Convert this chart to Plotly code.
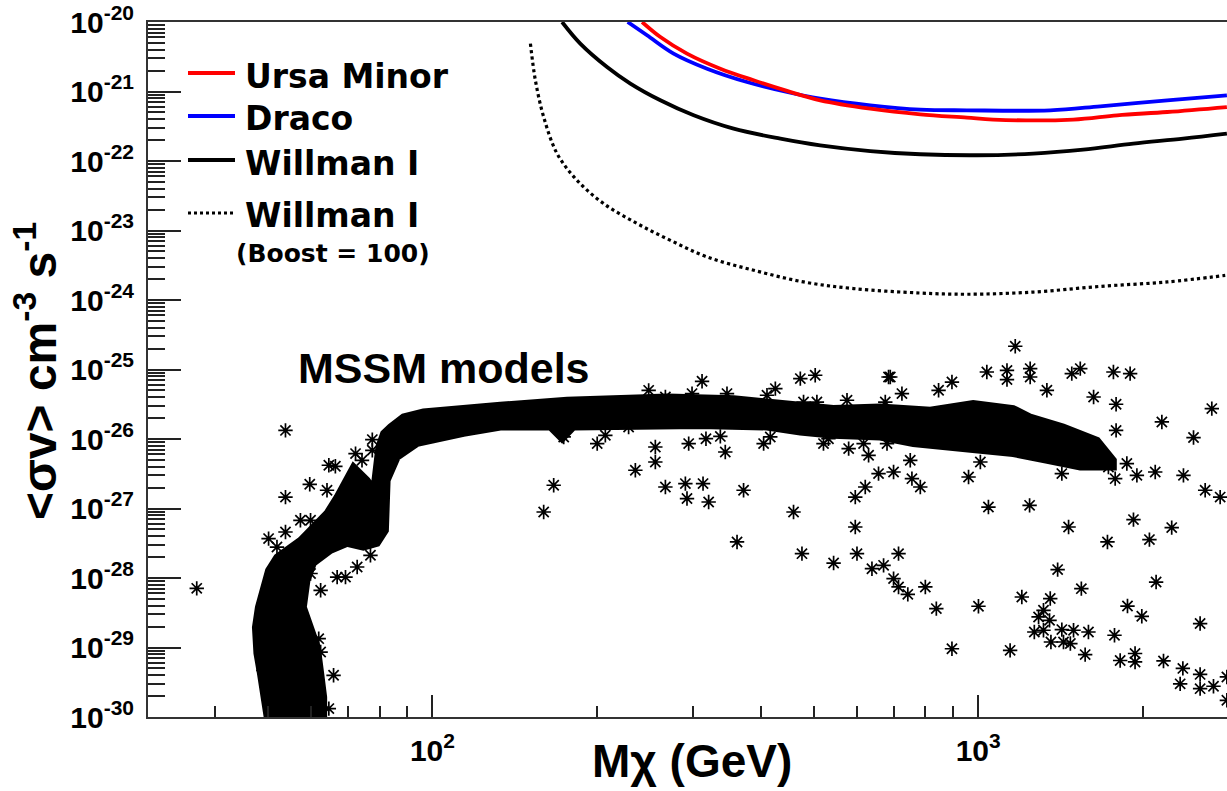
import plotly.graph_objects as go

# ---------------- data ----------------
ursa_m = [242.2, 261.6, 292.7, 336.9, 387.7, 446.3, 513.5, 634.2, 783.2, 953.5, 1065, 1493, 1797, 2220, 2855]
ursa_s = [1.0e-20, 6.08e-21, 3.51e-21, 2.13e-21, 1.45e-21, 1.02e-21, 7.47e-22, 5.67e-22, 4.70e-22,
          4.21e-22, 3.94e-22, 3.94e-22, 4.55e-22, 5.07e-22, 5.98e-22]

draco_m = [227.9, 247.3, 276.6, 318.5, 377.0, 446.3, 513.5, 634.2, 783.2, 953.5, 1355, 1673, 2220, 2855]
draco_s = [1.0e-20, 6.44e-21, 3.51e-21, 2.13e-21, 1.37e-21, 9.84e-22, 7.91e-22, 6.33e-22, 5.49e-22,
           5.36e-22, 5.36e-22, 6.12e-22, 7.47e-22, 8.81e-22]

willman_m = [172.8, 186.6, 208.9, 230.5, 261.6, 301.1, 356.3, 434, 513.5, 634.2, 783.2, 994.6,
             1261, 1557, 1923, 2374, 2855]
willman_s = [1.0e-20, 4.89e-21, 2.25e-21, 1.30e-21, 7.47e-22, 4.55e-22, 2.92e-22, 2.10e-22, 1.68e-22,
             1.39e-22, 1.25e-22, 1.21e-22, 1.28e-22, 1.46e-22, 1.78e-22, 2.10e-22, 2.48e-22]

boost_m = [151.2, 154.4, 159.9, 169.2, 184.1, 205.9, 237.1, 272.9, 318.5, 387.7, 478.6, 591, 783,
           953.5, 1261, 1673, 2220, 2835]
boost_s = [4.89e-21, 1.45e-21, 4.30e-22, 1.28e-22, 5.27e-23, 2.44e-23, 1.26e-23, 7.22e-24, 4.16e-24,
           2.68e-24, 1.82e-24, 1.46e-24, 1.26e-24, 1.21e-24, 1.30e-24, 1.57e-24, 1.82e-24, 2.26e-24]

# outline of the dense band of MSSM models
band_m = [49.8, 49.0, 48.4, 47.7, 47.4, 48.0, 49.0, 50.1, 51.9, 54.2, 57.3, 60.5, 64.1, 66.9, 69.8, 71.7,
          75.9, 78.1, 79.8, 81.4, 83.8, 88.5, 96.3, 114.0, 133.2, 176.5, 269.2, 356.3, 440.0, 542.6,
          661.4, 816.9, 979, 1159, 1245, 1431, 1652, 1768,
          1768, 1538, 1338, 1159, 1009, 876.5, 760.3, 661.4, 542.6, 472.1, 410.2, 309.6, 233.4, 181.2,
          172.8, 164.5, 133.2, 114.0, 93.8, 86.2, 82.6, 82.0, 79.2, 74.7, 69.8, 65.1, 60.5, 58.9, 58.0,
          59.8, 61.5, 62.4, 63.2, 63.2]
band_s = [1.0e-30, 1.92e-30, 4.26e-30, 8.26e-30, 1.95e-29, 3.79e-29, 7.35e-29, 1.29e-28, 2.00e-28,
          2.51e-28, 3.48e-28, 5.36e-28, 8.53e-28, 1.46e-27, 2.55e-27, 3.95e-27,
          2.55e-27, 1.83e-27, 7.67e-27, 1.20e-26, 1.49e-26, 2.07e-26, 2.44e-26, 2.77e-26, 3.05e-26,
          3.61e-26, 4.02e-26, 3.81e-26, 3.23e-26, 2.74e-26, 2.88e-26, 2.59e-26, 3.23e-26, 2.74e-26,
          2.07e-26, 1.49e-26, 9.57e-27, 4.94e-27,
          3.95e-27, 3.95e-27, 4.94e-27, 6.17e-27, 6.88e-27, 7.67e-27, 8.59e-27, 1.07e-26, 1.13e-26,
          1.26e-26, 1.49e-26, 1.57e-26, 1.49e-26, 1.49e-26, 1.01e-26, 1.49e-26, 1.49e-26, 1.21e-26,
          8.67e-27, 5.51e-27, 2.55e-27, 4.85e-28, 3.16e-28, 2.79e-28, 3.16e-28, 2.51e-28, 1.63e-28,
          9.27e-29, 3.79e-29, 1.95e-29, 1.02e-29, 4.26e-30, 1.92e-30, 1.0e-30]

# isolated MSSM models
mssm_m = [53.8, 53.8, 59.6, 64.6, 66.4, 72.3, 74.3, 77.6, 77.6, 64.1, 74.8, 57.3, 59.8, 53.8, 50.1,
          51.9, 59.8, 62.4, 66.9, 69.3, 77.0, 72.8, 65.9, 64.6, 48.8, 49.0, 62.4, 61.9, 37.0,
          249, 311.9, 299, 346.5, 267.2, 424.9, 410.2, 472.1, 502.7, 574.9, 685, 675.6, 478.6, 506.3,
          174, 200.4, 207.4, 228.8, 256.1, 256.1, 235.4, 294.8, 317.1, 336.9, 344, 404.4, 415.9, 520.6,
          531.6, 578.9, 616.6, 629.7, 656.7, 699.7, 680.6, 166.8, 159.9, 267.2, 290.7, 313.2, 292.7,
          320.7, 371.6, 458.8, 620.9, 595.3, 595.3, 361.5, 475.4, 543.3, 599.6, 638.7, 670.8, 699.7,
          714.5, 714.5,
          1169, 690, 1037, 1129, 1129, 1245, 1245, 1484, 1538, 1769, 1898, 895.1, 846, 724.8, 1336,
          1627, 1789, 1789, 2170, 2679, 2480, 750.7, 756, 783.2, 960, 1009, 1423, 1732, 1872, 1782,
          1953, 2110, 2377, 2605, 2775, 1044, 1242, 1464, 1925, 1725, 2059, 2262, 2118, 1398,
          743, 800, 838, 1001, 1202, 1355, 1317, 1290, 1351, 1267, 1317, 1423, 1495, 1592, 1359, 1433,
          1475, 1545, 1570, 1777, 1877, 1994, 2550, 895.1, 1144, 1820, 1938, 1938, 2185, 2371, 2344,
          2550, 2550, 2698, 2855, 2855]
mssm_s = [1.33e-26, 1.46e-27, 2.23e-27, 4.19e-27, 4.05e-27, 6.17e-27, 4.94e-27, 9.8e-27, 6.88e-27,
          1.83e-27, 2.04e-27, 6.76e-28, 6.76e-28, 4.59e-28, 3.69e-28, 2.79e-28, 1.16e-28, 6.65e-29,
          1.03e-28, 1.03e-28, 2.12e-28, 1.44e-28, 3.98e-30, 1.32e-30, 7.3e-30, 4.7e-30, 8.6e-30,
          1.34e-29, 7.1e-29,
          5.01e-26, 6.76e-26, 4.5e-26, 4.5e-26, 4.02e-26, 5.31e-26, 4.26e-26, 7.4e-26, 8.26e-26,
          3.61e-26, 7.8e-26, 3.4e-26, 3.4e-26, 3.4e-26,
          1.07e-26, 8.59e-27, 1.13e-26, 1.49e-26, 7.67e-27, 4.67e-27, 3.55e-27, 8.59e-27, 1.01e-26,
          1.09e-26, 6.5e-27, 8.59e-27, 1.07e-26, 8.59e-27, 1.01e-26, 7.28e-27, 8.59e-27, 5.83e-27,
          3.18e-27, 3.35e-27, 8.59e-27, 2.16e-27, 8.91e-28, 2.04e-27, 2.28e-27, 2.28e-27, 1.39e-27,
          1.24e-27, 1.83e-27, 8.91e-28, 2.04e-27, 1.46e-27, 5.42e-28, 3.3e-28, 2.24e-28, 1.64e-28,
          2.24e-28, 1.36e-28, 1.52e-28, 9.8e-29, 2.24e-28, 7.43e-29,
          2.16e-25, 7.8e-26, 9.2e-26, 9.7e-26, 7.16e-26, 1.03e-25, 7.8e-26, 8.73e-26, 1.03e-25,
          9.2e-26, 8.73e-26, 6.6e-26, 5.02e-26, 4.5e-26, 5.02e-26, 4.02e-26, 3.16e-26, 1.33e-26,
          1.76e-26, 2.74e-26, 1.05e-26, 4.94e-27, 2.69e-27, 2.04e-27, 2.84e-27, 4.67e-27, 3.18e-27,
          3.95e-27, 4.43e-27, 2.69e-27, 3.0e-27, 3.35e-27, 3.0e-27, 1.83e-27, 1.46e-27, 1.05e-27,
          1.11e-27, 5.42e-28, 6.92e-28, 3.3e-28, 3.57e-28, 5.31e-28, 8.75e-29, 1.32e-28,
          5.82e-29, 7.43e-29, 3.63e-29, 3.92e-29, 5.33e-29, 5.06e-29, 3.43e-29, 2.75e-29, 2.46e-29,
          1.67e-29, 1.77e-29, 1.81e-29, 1.77e-29, 1.67e-29, 1.2e-29, 1.2e-29, 1.14e-29, 7.03e-29,
          7.9e-30, 1.5e-29, 3.95e-29, 2.81e-29, 2.21e-29, 9.6e-30, 9.1e-30, 6.5e-30, 8.2e-30, 6.2e-30,
          6.4e-30, 5.0e-30, 3.0e-30, 4.1e-30, 2.56e-30, 2.77e-30, 3.77e-30, 1.74e-30]

y_tick_vals = [1e-30, 1e-29, 1e-28, 1e-27, 1e-26, 1e-25, 1e-24, 1e-23, 1e-22, 1e-21, 1e-20]
y_tick_text = ["10<sup>-30</sup>", "10<sup>-29</sup>", "10<sup>-28</sup>", "10<sup>-27</sup>",
               "10<sup>-26</sup>", "10<sup>-25</sup>", "10<sup>-24</sup>", "10<sup>-23</sup>",
               "10<sup>-22</sup>", "10<sup>-21</sup>", "10<sup>-20</sup>"]
x_tick_vals = [100, 1000]
x_tick_text = ["10<sup>2</sup>", "10<sup>3</sup>"]

# ---------------- figure ----------------
W, H = 1227, 791
ML, MR, MT, MB = 148, 0, 22, 74
PW, PH = W - ML - MR, H - MT - MB

def px(xp):
    return (xp - ML) / PW

def py(yp):
    return (H - MB - yp) / PH

fig = go.Figure()

fig.add_trace(go.Scatter(x=band_m, y=band_s, mode="lines", fill="toself", fillcolor="black",
                         line=dict(color="black", width=7), name="MSSM models (band)",
                         showlegend=False, hoverinfo="skip"))
fig.add_trace(go.Scatter(x=mssm_m, y=mssm_s, mode="markers", name="MSSM models", showlegend=False,
                         marker=dict(symbol="asterisk-open", size=12, color="black",
                                     line=dict(color="black", width=1.7))))

fig.add_trace(go.Scatter(x=boost_m, y=boost_s, mode="lines", name="Willman I (Boost = 100)",
                         line=dict(color="black", width=3.2, dash="dot", shape="spline"), showlegend=False))
fig.add_trace(go.Scatter(x=willman_m, y=willman_s, mode="lines", name="Willman I",
                         line=dict(color="black", width=3.8, shape="spline"), showlegend=False))
fig.add_trace(go.Scatter(x=draco_m, y=draco_s, mode="lines", name="Draco",
                         line=dict(color="#0000ff", width=3.8, shape="spline"), showlegend=False))
fig.add_trace(go.Scatter(x=ursa_m, y=ursa_s, mode="lines", name="Ursa Minor",
                         line=dict(color="#ff0000", width=3.8, shape="spline"), showlegend=False))

tickfont = dict(family="Liberation Sans, Arial, sans-serif", size=30, color="black", weight="bold")

y_minor = [k * 10.0 ** e for e in range(-30, -20) for k in range(2, 10)]
x_minor = [40, 50, 60, 70, 80, 90, 200, 300, 400, 500, 600, 700, 800, 900, 2000]

fig.update_layout(
    width=W, height=H,
    margin=dict(l=ML, r=MR, t=MT, b=MB),
    paper_bgcolor="white", plot_bgcolor="white",
    showlegend=False,
    xaxis=dict(type="log", range=[1.4789, 3.4558], showgrid=False, zeroline=False,
               showline=True, linecolor="#333", linewidth=2, mirror=True,
               ticks="inside", ticklen=22, tickwidth=1.5, tickcolor="#222",
               tickmode="array", tickvals=x_tick_vals, ticktext=x_tick_text, tickfont=tickfont,
               ticklabelstandoff=6,
               minor=dict(ticks="inside", ticklen=11, tickwidth=1.5, tickcolor="#222",
                          tickmode="array", tickvals=x_minor, showgrid=False)),
    yaxis=dict(type="log", range=[-30, -20], showgrid=False, zeroline=False,
               showline=True, linecolor="#333", linewidth=2, mirror=False,
               ticks="inside", ticklen=33, tickwidth=1.5, tickcolor="#222",
               tickmode="array", tickvals=y_tick_vals, ticktext=y_tick_text, tickfont=tickfont,
               ticklabelstandoff=6,
               minor=dict(ticks="inside", ticklen=17, tickwidth=1.5, tickcolor="#222",
                          tickmode="array", tickvals=y_minor, showgrid=False)),
)

title_font = dict(family="Liberation Sans, Arial, sans-serif", size=46, color="black", weight="bold")
fig.add_annotation(text="Mχ (GeV)", xref="paper", yref="paper", x=px(692), y=py(761),
                   xanchor="center", yanchor="middle", showarrow=False, font=title_font)
fig.add_annotation(text="&lt;σv&gt; cm<sup>-3</sup> s<sup>-1</sup>", xref="paper", yref="paper",
                   x=px(36), y=py(371), xanchor="center", yanchor="middle", textangle=-90,
                   showarrow=False, font=dict(title_font, size=48))
fig.add_annotation(text="MSSM models", xref="paper", yref="paper", x=px(296), y=py(368),
                   xanchor="left", yanchor="middle", showarrow=False,
                   font=dict(family="Liberation Sans, Arial, sans-serif", size=43, color="black",
                             weight="bold"))

# hand-drawn legend (ROOT TLegend style, no border)
leg_font = dict(family="DejaVu Sans, sans-serif", size=33, color="black", weight="bold")
legend_rows = [
    ("Ursa Minor", "#ff0000", "solid", 73, 76),
    ("Draco", "#0000ff", "solid", 116, 119),
    ("Willman I", "black", "solid", 160, 163),
    ("Willman I", "black", "dot", 213, 215),
]
for label, col, dash, ly, ty in legend_rows:
    fig.add_shape(type="line", xref="paper", yref="paper", x0=px(188), x1=px(235), y0=py(ly), y1=py(ly),
                  line=dict(color=col, width=3.8 if dash == "solid" else 3, dash=dash))
    fig.add_annotation(text=label, xref="paper", yref="paper", x=px(243), y=py(ty),
                       xanchor="left", yanchor="middle", showarrow=False, font=leg_font)
fig.add_annotation(text="(Boost = 100)", xref="paper", yref="paper", x=px(234), y=py(254),
                   xanchor="left", yanchor="middle", showarrow=False,
                   font=dict(family="DejaVu Sans, sans-serif", size=25, color="black", weight="bold"))

fig.write_html("out.html")
